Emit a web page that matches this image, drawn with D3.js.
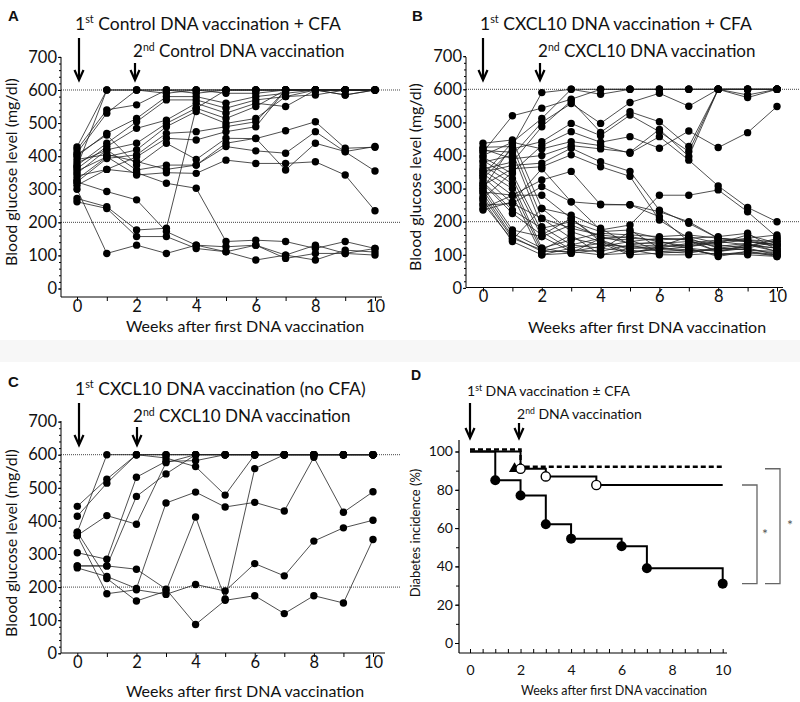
<!DOCTYPE html>
<html><head><meta charset="utf-8">
<script src="https://cdn.jsdelivr.net/npm/d3@7/dist/d3.min.js"></script>
<style>
body{margin:0;background:#fff;}
svg text{font-family:Lato,"Noto Sans",sans-serif;fill:#111;}
</style></head><body>
<svg id="chart" width="800" height="702"></svg>
<script>
// ---------------- DATA ----------------
const weeks = [0,1,2,3,4,5,6,7,8,9,10];
const glucoseTicks = [0,100,200,300,400,500,600,700];
const weekTickLabels = [0,2,4,6,8,10];
const thresholds = [600,200];

// Panel A: control DNA vaccination + CFA (blood glucose, mg/dl, weeks 0..10)
const miceA = [
 [428,600,600,600,600,600,600,600,600,600,600],
 [420,540,555,600,590,600,600,600,600,600,600],
 [410,530,600,590,600,590,590,600,600,600,600],
 [400,469,514,580,580,560,580,590,600,585,600],
 [372,439,504,570,570,545,570,580,585,600,600],
 [362,429,484,509,560,530,560,550,600,600,600],
 [348,419,439,499,545,514,550,600,600,600,600],
 [330,398,419,489,535,499,514,580,600,600,600],
 [322,393,404,469,474,489,504,600,600,585,600],
 [312,360,398,454,449,474,489,600,600,600,600],
 [405,464,373,439,390,454,453,477,504,424,427],
 [380,419,358,373,373,429,416,409,474,413,355],
 [355,398,343,350,348,388,378,378,383,343,235],
 [300,106,131,106,131,111,131,91,106,106,101],
 [262,242,157,157,121,111,86,101,86,116,110],
 [322,293,268,172,131,126,131,101,131,106,121],
 [340,360,350,318,303,142,146,142,121,142,121],
 [272,247,177,182,545,600,600,600,600,600,600],
 [368,600,600,600,600,600,600,600,600,600,600],
 [390,405,384,360,373,439,454,358,439,414,429]
];

// Panel B: CXCL10 DNA vaccination + CFA
const miceB = [
 [300,430,590,600,600,600,600,600,600,600,600],
 [410,520,543,570,600,600,600,600,600,600,600],
 [340,440,512,600,585,600,600,600,600,583,600],
 [380,400,500,557,497,560,588,549,600,600,600],
 [360,380,487,565,470,532,502,427,600,600,600],
 [330,420,442,497,460,522,472,412,600,575,600],
 [270,350,430,472,440,457,422,474,424,469,548],
 [400,440,420,442,430,407,457,386,308,243,200],
 [420,390,400,430,420,410,479,397,600,600,600],
 [350,370,377,422,381,352,235,195,150,140,130],
 [310,360,366,402,366,337,205,150,120,130,110],
 [290,280,326,352,251,251,215,140,110,120,100],
 [250,255,306,260,175,190,280,280,296,230,153],
 [437,447,240,170,140,120,120,115,100,110,95],
 [425,427,210,150,130,125,130,120,110,130,120],
 [415,410,185,130,120,110,115,125,135,145,130],
 [395,345,170,115,110,130,110,105,120,115,105],
 [385,330,155,110,100,105,125,130,140,150,160],
 [370,315,120,105,150,155,140,120,95,110,100],
 [355,300,110,110,125,140,150,145,130,120,140],
 [345,280,100,120,135,100,105,110,115,125,150],
 [335,255,210,180,160,150,145,150,155,165,115],
 [320,235,180,200,170,175,120,135,145,140,125],
 [315,225,160,210,145,115,100,100,105,100,95],
 [305,175,155,190,155,135,135,140,125,135,110],
 [295,165,120,145,165,160,155,160,150,145,140],
 [285,155,110,130,150,145,110,115,100,105,100],
 [275,150,115,160,100,120,125,155,135,160,135],
 [265,140,100,105,115,170,150,145,110,125,145],
 [255,145,240,220,180,130,140,125,140,130,120],
 [240,280,280,210,140,105,120,110,120,115,110],
 [235,260,360,260,253,251,230,200,150,140,130]
];

// Panel C: CXCL10 DNA vaccination, no CFA
const miceC = [
 [444,526,600,600,600,600,600,600,600,600,600],
 [414,514,600,590,564,478,600,600,600,600,600],
 [366,600,600,600,600,600,600,600,600,600,600],
 [356,416,390,576,600,600,600,600,600,600,600],
 [304,284,532,580,582,600,600,600,600,600,600],
 [264,264,474,542,600,600,600,600,600,600,600],
 [258,232,196,454,487,442,456,430,592,426,488],
 [366,226,158,188,412,164,558,600,600,600,600],
 [356,180,192,178,208,188,271,234,339,379,402],
 [264,264,254,194,87,160,174,120,174,152,344]
];

// Panel D: diabetes incidence (%)
const incidenceTicks = [0,20,40,60,80,100];
const kmControlWeeks = [0,2,10];
const kmControl      = [100,91,91];
const kmNoCfaWeeks   = [0,2,3,5,10];
const kmNoCfa        = [100,91,87,82.5,82.5];
const kmCfaWeeks     = [0,1,2,3,4,6,7,10];
const kmCfa          = [100,85,77,62,54.5,50.5,39,31];

const annotations = {
 A:["Control DNA vaccination + CFA","Control DNA vaccination"],
 B:["CXCL10 DNA vaccination + CFA","CXCL10 DNA vaccination"],
 C:["CXCL10 DNA vaccination (no CFA)","CXCL10 DNA vaccination"],
 D:["DNA vaccination \u00b1 CFA","DNA vaccination"]
};
const xTitle = "Weeks after first DNA vaccination";
const yTitleGlucose = "Blood glucose level (mg/dl)";
const yTitleIncidence = "Diabetes incidence (%)";

// ---------------- DRAW ----------------
const svg = d3.select("#chart");
svg.append("rect").attr("x",0).attr("y",0).attr("width",800).attr("height",702).attr("fill","#fff");
svg.append("rect").attr("x",0).attr("y",340).attr("width",800).attr("height",22).attr("fill","#f7f7f7");

function arrow(g,x,y1,y2){
  g.append("line").attr("x1",x).attr("x2",x).attr("y1",y1).attr("y2",y2-1)
   .attr("stroke","#000").attr("stroke-width",2.2);
  g.append("path").attr("d",`M${x-4.5},${y2-10}L${x},${y2}L${x+4.5},${y2-10}`)
   .attr("fill","none").attr("stroke","#000").attr("stroke-width",2.2);
}
function annot(g,x,y,ord,text,fs){
  const t = g.append("text").attr("x",x).attr("y",y).attr("font-size",fs);
  t.append("tspan").text(ord[0]);
  t.append("tspan").text(ord.slice(1)).attr("font-size",fs*0.62).attr("dy",-fs*0.38);
  t.append("tspan").text(" "+text).attr("dy",fs*0.38);
}

const layouts = [
 {id:"A",mice:miceA,xr:[77,375],yr:[288.5,56.9],ax:61,ay:297,axEnd:382,yTop:57,dotEnd:400,
  lab:[8,21],a1:[75,30],a2:[133,57],arr1:[79,38,80],arr2:[135,63,80],xt:[245,332],yt:[16.5,172]},
 {id:"B",mice:miceB,xr:[483,777],yr:[287.9,56.2],ax:466,ay:287.5,axEnd:783,yTop:57,dotEnd:800,
  lab:[412,21],a1:[480,30],a2:[538,57],arr1:[483,38,80],arr2:[540,63,80],xt:[647,333],yt:[421,177]},
 {id:"C",mice:miceC,xr:[77.3,373],yr:[653.3,421.6],ax:61,ay:653,axEnd:385,yTop:421,dotEnd:400,
  lab:[8,387],a1:[75,395],a2:[133,422],arr1:[79,403,445],arr2:[137,427,445],xt:[245,697],yt:[16.5,543]}
];

layouts.forEach(p=>{
  const g = svg.append("g");
  const x = d3.scaleLinear().domain([0,10]).range(p.xr);
  const y = d3.scaleLinear().domain([0,700]).range(p.yr);
  g.selectAll(null).data(thresholds).join("line")
    .attr("x1",p.ax).attr("x2",p.dotEnd).attr("y1",d=>y(d)).attr("y2",d=>y(d))
    .attr("stroke","#444").attr("stroke-width",1).attr("stroke-dasharray","1,1");
  const line = d3.line().x((d,i)=>x(weeks[i])).y(d=>y(d));
  g.selectAll("path.m").data(p.mice).join("path").attr("class","m")
    .attr("d",line).attr("fill","none").attr("stroke","#222").attr("stroke-width",0.8);
  p.mice.forEach(m=>{
    g.selectAll(null).data(m).join("circle")
      .attr("cx",(d,i)=>x(weeks[i])).attr("cy",d=>y(d)).attr("r",3.7).attr("fill","#000");
  });
  const ya = g.append("g").attr("transform",`translate(${p.ax},0)`)
    .call(d3.axisLeft(y).tickValues(glucoseTicks).tickSize(3).tickPadding(1));
  ya.select(".domain").remove();
  ya.selectAll("text").attr("font-size",16.5).attr("font-family","Lato");
  const ym = g.append("g").attr("transform",`translate(${p.ax},0)`)
    .call(d3.axisLeft(y).tickValues(d3.range(0,701,20)).tickSize(2).tickFormat(""));
  ym.select(".domain").remove();
  g.append("line").attr("x1",p.ax).attr("x2",p.ax).attr("y1",p.yTop).attr("y2",p.ay).attr("stroke","#000").attr("stroke-width",1);
  const xa = g.append("g").attr("transform",`translate(0,${p.ay})`)
    .call(d3.axisBottom(x).tickValues(weeks).tickSize(4).tickPadding(-1)
      .tickFormat(d=>weekTickLabels.includes(d)?d:""));
  xa.select(".domain").remove();
  xa.selectAll("text").attr("font-size",16.5).attr("font-family","Lato");
  g.append("line").attr("x1",p.ax).attr("x2",p.axEnd).attr("y1",p.ay).attr("y2",p.ay).attr("stroke","#000").attr("stroke-width",1);
  g.append("text").attr("x",p.xt[0]).attr("y",p.xt[1]).attr("text-anchor","middle").attr("font-size",16).text(xTitle);
  g.append("text").attr("transform",`translate(${p.yt[0]},${p.yt[1]}) rotate(-90)`).attr("text-anchor","middle").attr("font-size",16).text(yTitleGlucose);
  g.append("text").attr("x",p.lab[0]).attr("y",p.lab[1]).attr("font-size",15).attr("font-weight","bold")
    .style("font-family","'Liberation Sans',Arial,sans-serif").text(p.id);
  annot(g,p.a1[0],p.a1[1],"1st",annotations[p.id][0],17.5);
  annot(g,p.a2[0],p.a2[1],"2nd",annotations[p.id][1],17);
  arrow(g,...p.arr1); arrow(g,...p.arr2);
});

// Panel D
(function(){
  const g = svg.append("g");
  const x = d3.scaleLinear().domain([0,10]).range([470,722.7]);
  const y = d3.scaleLinear().domain([0,100]).range([643,451.5]);
  const ya = g.append("g").attr("transform","translate(459,0)")
    .call(d3.axisLeft(y).tickValues(incidenceTicks).tickSize(4).tickPadding(2));
  ya.select(".domain").remove();
  ya.selectAll("text").attr("font-size",14).attr("font-family","Lato");
  const ym = g.append("g").attr("transform","translate(459,0)")
    .call(d3.axisLeft(y).tickValues(d3.range(0,101,10)).tickSize(3).tickFormat(""));
  ym.select(".domain").remove();
  g.append("line").attr("x1",459).attr("x2",459).attr("y1",440).attr("y2",653).attr("stroke","#000").attr("stroke-width",1.2);
  const xa = g.append("g").attr("transform","translate(0,653)")
    .call(d3.axisBottom(x).tickValues(weekTickLabels).tickSize(0).tickPadding(12));
  xa.select(".domain").remove();
  xa.selectAll("text").attr("font-size",14).attr("font-family","Lato");
  const xm = g.append("g").attr("transform","translate(0,653)")
    .call(d3.axisBottom(x).tickValues(d3.range(0,10.01,0.5)).tickSize(-4).tickFormat(""));
  xm.select(".domain").remove();
  g.append("line").attr("x1",459).attr("x2",727).attr("y1",653).attr("y2",653).attr("stroke","#000").attr("stroke-width",1.2);

  const step = (ws,vs)=>d3.line().curve(d3.curveStepAfter).x((d,i)=>x(ws[i])).y(d=>y(d))(vs);
  g.append("path").attr("d",step(kmCfaWeeks,kmCfa)).attr("fill","none").attr("stroke","#000").attr("stroke-width",2);
  g.append("path").attr("d",step(kmNoCfaWeeks,kmNoCfa)).attr("fill","none").attr("stroke","#000").attr("stroke-width",2);
  g.append("path").attr("d",step(kmControlWeeks,kmControl)).attr("transform","translate(0,-2)")
    .attr("fill","none").attr("stroke","#000").attr("stroke-width",2.4).attr("stroke-dasharray","5,3");
  const tx = x(kmControlWeeks[1])-6, ty = y(kmControl[1]);
  g.append("path").attr("d",d3.symbol(d3.symbolTriangle,55)()).attr("transform",`translate(${tx},${ty})`).attr("fill","#000");
  g.selectAll(null).data(kmNoCfa.slice(1,4)).join("circle")
    .attr("cx",(d,i)=>x(kmNoCfaWeeks[i+1])).attr("cy",d=>y(d)).attr("r",4.6)
    .attr("fill","#fff").attr("stroke","#000").attr("stroke-width",1.4);
  g.selectAll(null).data(kmCfa.slice(1)).join("circle")
    .attr("cx",(d,i)=>x(kmCfaWeeks[i+1])).attr("cy",d=>y(d)).attr("r",5).attr("fill","#000");
  const br = (x1,x2,v1,v2)=>g.append("path")
    .attr("d",`M${x1},${y(v1)}H${x2}V${y(v2)}H${x1}`).attr("fill","none").attr("stroke","#666").attr("stroke-width",1.3);
  br(742,757,kmNoCfa[4],kmCfa[7]);
  br(765,780,kmControl[2],kmCfa[7]);
  g.append("text").attr("x",765).attr("y",539).attr("text-anchor","middle").attr("font-size",14).style("fill","#555").text("*");
  g.append("text").attr("x",790).attr("y",530).attr("text-anchor","middle").attr("font-size",14).style("fill","#555").text("*");

  g.append("text").attr("x",614).attr("y",695).attr("text-anchor","middle").attr("font-size",12.5).text(xTitle);
  g.append("text").attr("transform","translate(420,533) rotate(-90)").attr("text-anchor","middle").attr("font-size",13).text(yTitleIncidence);
  g.append("text").attr("x",411).attr("y",380).attr("font-size",14).attr("font-weight","bold")
    .style("font-family","'Liberation Sans',Arial,sans-serif").text("D");
  annot(g,467,396,"1st",annotations.D[0],14);
  annot(g,517,419,"2nd",annotations.D[1],14);
  arrow(g,470,403,438); arrow(g,519,423,438);
})();
</script>
</body></html>
